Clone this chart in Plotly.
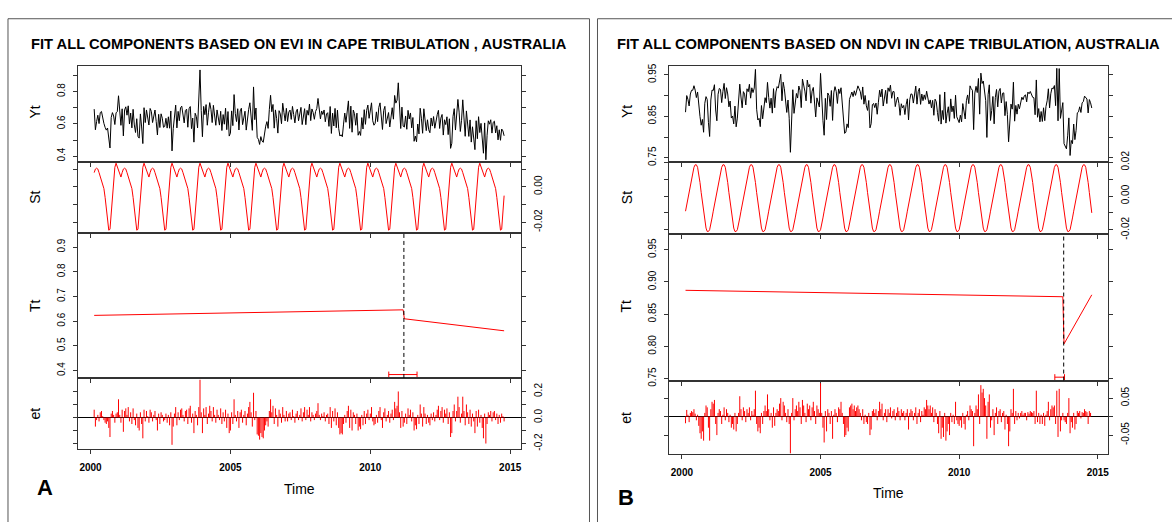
import numpy as np
import plotly.graph_objects as go

W, H = 1172, 522
FONT = "Liberation Sans, Arial, sans-serif"

# ---------------- time axis: 16-day MODIS composites ----------------
first_year = 2000
first_slot = 3          # first composite used = 4th slot of 2000
slots_per_year = 23
n_obs = 338

# ---------------- seasonal component, one value per 16-day slot ----------------
evi_st_cycle = [0.009, 0.007, 0.0055, 0.008, 0.010, 0.0105, 0.010, 0.008, 0.006, 0.003,
                0.001, -0.001, -0.006, -0.013, -0.020, -0.0245, -0.024, -0.015, -0.005,
                0.004, 0.011, 0.0133, 0.011]
ndvi_st_cycle = [-0.020, -0.017, -0.013, -0.009, -0.005, -0.001, 0.003, 0.007, 0.011, 0.014,
                 0.017, 0.0185, 0.0185, 0.017, 0.013, 0.008, 0.002, -0.004, -0.010, -0.015,
                 -0.019, -0.021, -0.021]

# ---------------- trend component (segment end values) ----------------
evi_break = 2011.2
evi_break_ci = [2010.66, 2011.67]
evi_tt_seg1 = [0.6235, 0.646]
evi_tt_seg2 = [0.610, 0.561]

ndvi_break = 2013.77
ndvi_break_ci = [2013.45, 2013.80]
ndvi_tt_seg1 = [0.887, 0.877]
ndvi_tt_seg2 = [0.803, 0.880]

# ---------------- remainder component (by year) ----------------
evi_et = (
    [0.06, -0.07, -0.02, 0.02, -0.03, 0.04, 0.05, 0.01, -0.02, -0.04, -0.05, -0.03, -0.08, -0.15, 0.03, 0.05, 0.02, -0.04, 0.03, 0.04]
    + [0.14, 0.02, -0.04, 0.06, -0.11, 0.05, 0.07, 0.02, 0.08, -0.03, 0.04, -0.05, 0.07, -0.02, -0.06, 0.03, -0.08, -0.1, 0.04, -0.05, -0.16, 0.06, -0.03]
    + [0.05, 0.01, -0.04, 0.06, 0.04, -0.03, 0.02, 0.05, -0.02, -0.1, 0.03, -0.05, 0.04, 0.02, -0.03, -0.02, 0.03, -0.04, 0.02, -0.06, 0.04, -0.21, -0.07]
    + [0.03, 0.08, -0.06, 0.04, -0.02, 0.06, 0.07, 0.02, -0.03, 0.05, 0.06, -0.05, 0.07, 0.09, -0.04, 0.03, -0.12, 0.05, 0.02, -0.06, 0.08, 0.29, 0.04]
    + [-0.12, 0.07, 0.02, 0.08, -0.05, 0.03, 0.09, 0.05, -0.03, 0.08, 0.02, -0.04, 0.06, 0.02, -0.02, 0.07, -0.05, 0.04, -0.03, 0.06, -0.08, 0.03, -0.12]
    + [-0.1, 0.04, -0.05, 0.14, 0.02, -0.03, 0.05, -0.08, 0.04, 0.06, -0.04, 0.02, 0.05, -0.06, 0.03, 0.08, 0.12, 0.04, -0.07, 0.19, -0.02, 0.05, -0.13]
    + [-0.14, -0.17, -0.12, -0.15, -0.16, -0.1, -0.06, -0.03, -0.07, 0.05, 0.14, 0.04, 0.09, -0.05, 0.07, 0.02, -0.07, 0.06, 0.03, -0.04, 0.08, 0.02, -0.03]
    + [0.05, -0.03, 0.03, 0.04, -0.02, 0.06, 0.01, -0.04, 0.03, 0.05, -0.02, 0.02, 0.07, -0.03, 0.04, 0.08, -0.02, 0.06, 0.02, 0.08, -0.03, 0.04, 0.02]
    + [-0.02, 0.03, 0.05, 0.11, 0.02, -0.02, 0.03, 0.01, 0.04, -0.03, 0.02, 0.03, -0.05, 0.08, -0.08, 0.05, -0.03, 0.07, -0.06, 0.04, -0.08, -0.13, -0.12]
    + [-0.13, -0.05, 0.02, -0.04, 0.05, 0.09, -0.08, 0.06, -0.1, 0.04, 0.02, -0.05, 0.03, -0.1, -0.07, -0.09, 0.02, -0.06, 0.05, -0.05, 0.03, 0.06, -0.02]
    + [0.03, 0.08, -0.03, -0.06, -0.05, 0.02, -0.04, 0.05, 0.08, -0.02, -0.08, 0.04, 0.07, -0.03, 0.02, 0.05, -0.04, 0.03, 0.06, -0.02, 0.12, 0.07, 0.09]
    + [0.2, 0.04, -0.08, 0.05, -0.07, -0.04, 0.03, -0.05, 0.07, 0.02, 0.06, -0.03, 0.04, -0.1, -0.06, -0.09, 0.02, -0.05, 0.1, 0.03, -0.07, 0.08, 0.03]
    + [-0.05, 0.02, -0.04, -0.06, 0.03, -0.02, 0.04, -0.03, 0.02, 0.06, 0.09, -0.02, 0.05, 0.08, -0.04, 0.06, 0.03, 0.07, -0.05, 0.04, -0.15, -0.12, 0.05]
    + [0.1, -0.03, 0.05, 0.16, 0.08, -0.04, 0.03, 0.16, 0.05, -0.06, 0.1, 0.04, -0.05, 0.06, -0.07, 0.03, -0.03, -0.12, 0.05, -0.07, 0.06, -0.04, 0.02]
    + [-0.08, -0.16, 0.03, -0.2, -0.05, 0.04, 0.02, 0.05, -0.03, 0.04, 0.05, -0.02, 0.03, -0.05, 0.02, -0.04, 0.03, 0.01, -0.03]
)

ndvi_et = (
    [-0.018, 0.018, 0.005, -0.015, 0.01, 0.015, 0.012, 0.02, 0.008, -0.01, 0.005, -0.025, -0.045, -0.06, -0.04, -0.065, 0.01, 0.03, 0.025, -0.03]
    + [-0.065, 0.02, 0.04, 0.035, 0.045, -0.02, -0.05, 0.01, 0.02, 0.015, -0.02, 0.005, 0.025, -0.01, 0.02, 0.01, -0.015, 0.005, -0.03, -0.02, -0.035, 0.01, -0.04]
    + [-0.02, 0.01, 0.055, 0.02, -0.01, 0.025, 0.015, -0.015, 0.02, 0.01, 0.025, -0.01, 0.015, 0.005, 0.02, 0.07, -0.02, -0.04, -0.03, -0.045, 0.01, -0.02, 0.015]
    + [0.03, 0.015, 0.06, 0.02, -0.01, 0.01, -0.03, 0.025, -0.025, 0.01, 0.02, 0.015, 0.035, 0.05, -0.01, 0.04, 0.03, 0.01, -0.015, 0.02, -0.02, -0.1, 0.01]
    + [0.05, -0.01, 0.02, 0.03, 0.015, 0.04, 0.025, -0.02, 0.045, 0.03, 0.01, -0.015, 0.035, 0.02, 0.03, -0.01, 0.025, 0.04, 0.015, -0.02, 0.03, 0.02, 0.01]
    + [0.09, 0.01, -0.03, -0.07, 0.015, -0.04, 0.02, 0.01, -0.02, 0.015, -0.06, 0.005, 0.02, 0.01, -0.015, 0.025, 0.02, 0.04, 0.01, -0.02, -0.055, -0.05, -0.03]
    + [-0.04, 0.025, 0.03, 0.035, 0.02, 0.03, 0.015, 0.025, 0.03, 0.02, 0.01, -0.01, 0.02, -0.02, 0.005, -0.015, -0.02, 0.01, -0.05, -0.035, 0.015, 0.02, 0.01]
    + [0.02, -0.01, 0.015, 0.04, 0.02, 0.035, -0.01, 0.01, 0.02, -0.015, 0.02, 0.01, 0.025, -0.005, 0.015, 0.02, -0.01, 0.01, 0.025, 0.015, -0.01, 0.02, 0.01]
    + [0.015, -0.01, 0.01, 0.02, -0.035, 0.01, 0.02, 0.015, -0.01, 0.01, 0.025, -0.02, 0.01, 0.02, -0.015, 0.015, 0.005, 0.025, 0.02, 0.045, 0.03, 0.02, 0.03]
    + [0.01, 0.025, -0.015, 0.02, 0.01, -0.02, -0.045, 0.015, -0.06, -0.03, -0.055, 0.01, -0.065, -0.04, -0.02, -0.05, 0.01, -0.015, 0.005, -0.02, 0.04, -0.01, -0.02]
    + [-0.025, -0.01, -0.03, 0.01, -0.02, -0.035, 0.005, 0.015, -0.01, 0.03, 0.02, 0.015, -0.08, 0.01, 0.03, 0.02, 0.06, -0.02, 0.085, 0.065, 0.075, 0.05, 0.03]
    + [-0.06, 0.04, 0.06, -0.03, -0.01, 0.02, -0.05, 0.01, 0.025, -0.02, 0.015, 0.02, -0.015, 0.01, 0.015, -0.035, 0.005, -0.02, -0.08, -0.04, 0.02, 0.01, 0.075]
    + [-0.02, 0.015, -0.01, 0.01, -0.005, 0.01, 0.015, 0.005, 0.01, 0.01, -0.01, 0.012, 0.008, 0.015, 0.012, 0.01, 0.015, -0.02, 0.07, -0.015, 0.01, -0.02, 0.005]
    + [-0.02, 0.01, -0.025, 0.005, 0.015, 0.04, -0.01, 0.02, 0.03, 0.025, 0.03, -0.02, 0.07, -0.055, 0.075, -0.04, -0.01, 0.01, -0.01, -0.015, -0.02, 0.01, 0.05]
    + [-0.045, -0.015, -0.03, 0.01, -0.035, -0.02, 0.015, 0.01, 0.015, -0.005, 0.012, 0.01, 0.02, 0.015, 0.012, -0.02, 0.015, 0.01, 0.0]
)

titles = ["FIT ALL COMPONENTS BASED ON EVI IN CAPE TRIBULATION , AUSTRALIA",
          "FIT ALL COMPONENTS BASED ON NDVI IN CAPE TRIBULATION, AUSTRALIA"]
panel_letters = ["A", "B"]
component_names = ["Yt", "St", "Tt", "et"]
year_ticks = [2000, 2005, 2010, 2015]

# ---------------- build series ----------------
slot = np.arange(first_slot, first_slot + n_obs)
t = first_year + slot / slots_per_year
season_idx = slot % slots_per_year


def trend_series(brk, seg1, seg2):
    t0, tn = t[0], t[-1]
    pre = seg1[0] + (seg1[1] - seg1[0]) * (t - t0) / (brk - t0)
    post = seg2[0] + (seg2[1] - seg2[0]) * (t - brk) / (tn - brk)
    return np.where(t <= brk, pre, post)


def build(st_cycle, et_list, brk, seg1, seg2):
    st = np.array(st_cycle)[season_idx]
    et = np.array(et_list)
    tt = trend_series(brk, seg1, seg2)
    yt = tt + st + et   # additive decomposition Yt = Tt + St + et
    return yt, st, tt, et


evi = build(evi_st_cycle, evi_et, evi_break, evi_tt_seg1, evi_tt_seg2)
ndvi = build(ndvi_st_cycle, ndvi_et, ndvi_break, ndvi_tt_seg1, ndvi_tt_seg2)

# ---------------- layout geometry (pixels) ----------------
def xdom(l, r):
    return [l / W, r / W]


def ydom(top, bot):
    return [1 - bot / H, 1 - top / H]


X_RANGE = [1999.55, 2015.37]
LC = "#333333"

panels = [
    # left (EVI)
    dict(xd=xdom(78, 521), yd=ydom(57, 155.7), yr=[0.366, 0.958],
         tv=[0.4, 0.5, 0.6, 0.7, 0.8, 0.9], tt=["0.4", "", "0.6", "", "0.8", ""], side="left"),
    dict(xd=xdom(78, 521), yd=ydom(155.7, 229.3), yr=[-0.026, 0.0142],
         tv=[-0.02, -0.01, 0.0, 0.01], tt=["-0.02", "", "0.00", ""], side="right"),
    dict(xd=xdom(78, 521), yd=ydom(229.3, 379.3), yr=[0.370, 0.958],
         tv=[0.4, 0.5, 0.6, 0.7, 0.8, 0.9], tt=["0.4", "0.5", "0.6", "0.7", "0.8", "0.9"], side="left"),
    dict(xd=xdom(78, 521), yd=ydom(379.3, 453), yr=[-0.244, 0.304],
         tv=[-0.2, -0.1, 0.0, 0.1, 0.2], tt=["-0.2", "", "0.0", "", "0.2"], side="right"),
    # right (NDVI)
    dict(xd=xdom(670, 1109), yd=ydom(57, 156), yr=[0.74, 0.971],
         tv=[0.75, 0.80, 0.85, 0.90, 0.95], tt=["0.75", "", "0.85", "", "0.95"], side="left"),
    dict(xd=xdom(670, 1109), yd=ydom(156, 231), yr=[-0.0228, 0.0202],
         tv=[-0.02, -0.01, 0.0, 0.01, 0.02], tt=["-0.02", "", "0.00", "", "0.02"], side="right"),
    dict(xd=xdom(670, 1109), yd=ydom(231, 382), yr=[0.747, 0.9736],
         tv=[0.75, 0.80, 0.85, 0.90, 0.95], tt=["0.75", "0.80", "0.85", "0.90", "0.95"], side="left"),
    dict(xd=xdom(670, 1109), yd=ydom(382, 457.5), yr=[-0.1, 0.0974],
         tv=[-0.05, 0.0, 0.05], tt=["-0.05", "", "0.05"], side="right"),
]


def names(i):
    k = "" if i == 1 else str(i)
    return "xaxis" + k, "yaxis" + k, "x" + k, "y" + k


fig = go.Figure()
layout_axes = {}
for i, p in enumerate(panels, start=1):
    xa, ya, xr, yr_ = names(i)
    is_bottom = (i % 4 == 0)
    layout_axes[xa] = dict(
        domain=p["xd"], range=X_RANGE, anchor=yr_, showline=True, mirror=True,
        linecolor=LC, linewidth=1, ticks="outside", ticklen=4, tickcolor=LC,
        tickvals=year_ticks, ticktext=[str(v) for v in year_ticks],
        showticklabels=is_bottom, ticklabelstandoff=5,
        tickfont=dict(family=FONT, size=10, color="black", weight="bold"),
        showgrid=False, zeroline=False,
    )
    layout_axes[ya] = dict(
        domain=p["yd"], range=p["yr"], anchor=xr, side=p["side"], showline=True,
        mirror="ticks", linecolor=LC, linewidth=1, ticks="outside", ticklen=4,
        tickcolor=LC, tickvals=p["tv"], ticktext=p["tt"], tickangle=-90,
        ticklabelstandoff=4,
        tickfont=dict(family=FONT, size=10, color="black"),
        showgrid=False, zeroline=is_bottom, zerolinecolor="black", zerolinewidth=1,
    )

for side, (series, brk, ci) in enumerate([(evi, evi_break, evi_break_ci),
                                           (ndvi, ndvi_break, ndvi_break_ci)]):
    yt, st, tt, et = series
    base = side * 4
    ax = [names(base + k) for k in range(1, 5)]
    fig.add_trace(go.Scatter(x=t, y=yt, mode="lines", line=dict(color="black", width=1),
                             xaxis=ax[0][2], yaxis=ax[0][3], showlegend=False, hoverinfo="skip"))
    fig.add_trace(go.Scatter(x=t, y=st, mode="lines", line=dict(color="red", width=1),
                             xaxis=ax[1][2], yaxis=ax[1][3], showlegend=False, hoverinfo="skip"))
    fig.add_trace(go.Scatter(x=t, y=tt, mode="lines", line=dict(color="red", width=1),
                             xaxis=ax[2][2], yaxis=ax[2][3], showlegend=False, hoverinfo="skip"))
    # remainder as histogram-like vertical spikes (type = "h")
    hx = np.column_stack([t, t, np.full_like(t, np.nan)]).ravel()
    hy = np.column_stack([np.zeros_like(et), et, np.full_like(et, np.nan)]).ravel()
    fig.add_trace(go.Scatter(x=hx, y=hy, mode="lines", line=dict(color="red", width=1),
                             connectgaps=False,
                             xaxis=ax[3][2], yaxis=ax[3][3], showlegend=False, hoverinfo="skip"))
    # confidence interval of the break, drawn near the bottom of the trend panel
    p = panels[base + 2]
    ylo, yhi = p["yr"]
    h_px = (p["yd"][1] - p["yd"][0]) * H
    ybr = ylo + (yhi - ylo) * 3.5 / h_px
    fig.add_trace(go.Scatter(x=[brk], y=[ybr], mode="markers",
                             marker=dict(size=1, color="rgba(0,0,0,0)"),
                             error_x=dict(type="data", symmetric=False,
                                          array=[ci[1] - brk], arrayminus=[brk - ci[0]],
                                          color="red", thickness=1, width=3),
                             xaxis=ax[2][2], yaxis=ax[2][3], showlegend=False, hoverinfo="skip"))
    # dashed break line
    fig.add_shape(type="line", xref=ax[2][2], yref=ax[2][3] + " domain",
                  x0=brk, x1=brk, y0=0, y1=1,
                  line=dict(color="black", width=1, dash="4px,3px"))

# outer panel frames
for x0, x1 in [(8, 590), (598, 1180)]:
    fig.add_shape(type="rect", xref="paper", yref="paper",
                  x0=x0 / W, x1=x1 / W, y0=1 - 540 / H, y1=1 - 8 / H,
                  line=dict(color="#555555", width=1), fillcolor="rgba(0,0,0,0)")

ann = []
title_cx = [299.5, 889.5]
label_x = [35, 627]
label_y = [[104, 192, 304, 416], [104, 193, 305, 420]]
time_y = [494, 498]
letter_pos = [(45, 493), (627, 503)]
for s in range(2):
    ann.append(dict(text="<b>" + titles[s] + "</b>", x=title_cx[s] / W, y=1 - 34 / H,
                    xref="paper", yref="paper", showarrow=False, xanchor="center",
                    yanchor="middle", font=dict(family=FONT, size=14.7, color="black")))
    for k, nm in enumerate(component_names):
        ann.append(dict(text=nm, x=label_x[s] / W, y=1 - label_y[s][k] / H,
                        xref="paper", yref="paper", showarrow=False, textangle=-90,
                        xanchor="center", yanchor="middle",
                        font=dict(family=FONT, size=14, color="black")))
    ann.append(dict(text="Time", x=title_cx[s] / W, y=1 - time_y[s] / H, xref="paper",
                    yref="paper", showarrow=False, xanchor="center", yanchor="middle",
                    font=dict(family=FONT, size=14, color="black")))
    ann.append(dict(text="<b>" + panel_letters[s] + "</b>", x=letter_pos[s][0] / W,
                    y=1 - letter_pos[s][1] / H, xref="paper", yref="paper",
                    showarrow=False, xanchor="center", yanchor="middle",
                    font=dict(family=FONT, size=22, color="black")))

fig.update_layout(
    width=W, height=H, margin=dict(l=0, r=0, t=0, b=0),
    paper_bgcolor="white", plot_bgcolor="white",
    showlegend=False, annotations=ann,
    font=dict(family=FONT, color="black"),
    **layout_axes,
)

fig.write_html("out.html", config={"displayModeBar": False})
